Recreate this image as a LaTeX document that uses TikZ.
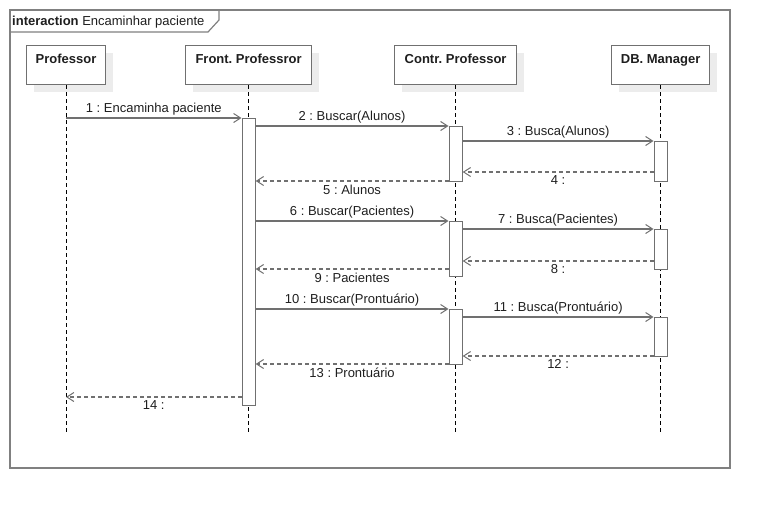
\documentclass[tikz,border=0pt]{standalone}
\usepackage{fontspec}
\setmainfont{Liberation Sans}
\usetikzlibrary{positioning}
\usetikzlibrary{arrows.meta}
\usetikzlibrary{shadows}
\definecolor{umlgray}{RGB}{112,112,112}
\definecolor{framegray}{RGB}{128,128,128}
\definecolor{shadowgray}{RGB}{236,236,236}
\definecolor{textdark}{RGB}{30,30,30}
\frenchspacing
\tikzset{
life_head/.style={rectangle, draw=umlgray, line width=1.2pt, fill=white, anchor=north,
  minimum height=39pt, inner ysep=4pt, text height=14pt, text depth=17pt,
  font=\fontsize{13}{15}\selectfont\bfseries, text=textdark,
  drop shadow={shadow xshift=7pt, shadow yshift=-7pt, fill=shadowgray, opacity=1}},
life_line/.style={draw=black, line width=0.9pt, dash pattern=on 4pt off 3pt},
activation/.style={rectangle, draw=umlgray, line width=1.2pt, fill=white, anchor=north, minimum width=13pt, inner sep=0pt},
msg/.style={draw=umlgray, line width=1.2pt, -{Straight Barb[length=7pt, width=9pt, line width=1pt]}},
ret_msg/.style={msg, dash pattern=on 4pt off 3pt},
msg_label/.style={text=textdark, inner sep=2pt}
}

\begin{document}
\begin{tikzpicture}[x=1pt, y=-1pt, font=\fontsize{13}{15}\selectfont]
    \useasboundingbox (0,0) rectangle (770,509);
    % frame
    \draw[framegray, line width=1.5pt] (10,10) rectangle (730,468);
    \draw[framegray, line width=1.2pt] (10,32) -- (208,32) -- (219,20) -- (219,10);
    \node[anchor=base west, inner sep=0pt, text=textdark] (frame_title) at (12,25) {\textbf{interaction} Encaminhar paciente};

    % lifeline heads
    \node[life_head, minimum width=79pt] (prof) at (66,45) {Professor};
    \node[life_head, minimum width=126pt, anchor=north west] (front) at (185,45) {Front. Professror};
    \node[life_head, minimum width=122pt, anchor=north west] (contr) at (394,45) {Contr. Professor};
    \node[life_head, minimum width=98pt, anchor=north west] (db) at (611,45) {DB. Manager};

    % lifelines
    \draw[life_line] (prof.south) -- (prof |- 0,435);
    \draw[life_line] (front.south) -- (front |- 0,435);
    \draw[life_line] (contr.south) -- (contr |- 0,435);
    \draw[life_line] (db.south) -- (db |- 0,435);

    % activations
    \node[activation, minimum height=287pt] (front_act) at (front |- 0,118) {};
    \node[activation, minimum height=55pt] (contr_act1) at (contr |- 0,126) {};
    \node[activation, minimum height=40pt] (db_act1) at (db |- 0,141) {};
    \node[activation, minimum height=55pt] (contr_act2) at (contr |- 0,221) {};
    \node[activation, minimum height=40pt] (db_act2) at (db |- 0,229) {};
    \node[activation, minimum height=55pt] (contr_act3) at (contr |- 0,309) {};
    \node[activation, minimum height=39pt] (db_act3) at (db |- 0,317) {};

    % messages
    \draw[msg] (prof |- 0,118) -- (front_act.west |- 0,118) node[msg_label, midway, above] {1 : Encaminha paciente};
    \draw[msg] (front_act.east |- 0,126) -- (contr_act1.west |- 0,126) node[msg_label, midway, above] {2 : Buscar(Alunos)};
    \draw[msg] (contr_act1.east |- 0,141) -- (db_act1.west |- 0,141) node[msg_label, midway, above] {3 : Busca(Alunos)};
    \draw[ret_msg] (db_act1.west |- 0,172) -- (contr_act1.east |- 0,172) node[msg_label, midway, below=1pt] {4 :};
    \draw[ret_msg] (contr_act1.west |- 0,181) -- (front_act.east |- 0,181) node[msg_label, midway, below=1pt] {5 : Alunos};
    \draw[msg] (front_act.east |- 0,221) -- (contr_act2.west |- 0,221) node[msg_label, midway, above] {6 : Buscar(Pacientes)};
    \draw[msg] (contr_act2.east |- 0,229) -- (db_act2.west |- 0,229) node[msg_label, midway, above] {7 : Busca(Pacientes)};
    \draw[ret_msg] (db_act2.west |- 0,261) -- (contr_act2.east |- 0,261) node[msg_label, midway, below=1pt] {8 :};
    \draw[ret_msg] (contr_act2.west |- 0,269) -- (front_act.east |- 0,269) node[msg_label, midway, below=1pt] {9 : Pacientes};
    \draw[msg] (front_act.east |- 0,309) -- (contr_act3.west |- 0,309) node[msg_label, midway, above] {10 : Buscar(Prontuário)};
    \draw[msg] (contr_act3.east |- 0,317) -- (db_act3.west |- 0,317) node[msg_label, midway, above] {11 : Busca(Prontuário)};
    \draw[ret_msg] (db_act3.west |- 0,356) -- (contr_act3.east |- 0,356) node[msg_label, midway, below=1pt] {12 :};
    \draw[ret_msg] (contr_act3.west |- 0,364) -- (front_act.east |- 0,364) node[msg_label, midway, below=1pt] {13 : Prontuário};
    \draw[ret_msg] (front_act.west |- 0,397) -- (prof |- 0,397) node[msg_label, midway, below=1pt] {14 :};
\end{tikzpicture}
\end{document}
